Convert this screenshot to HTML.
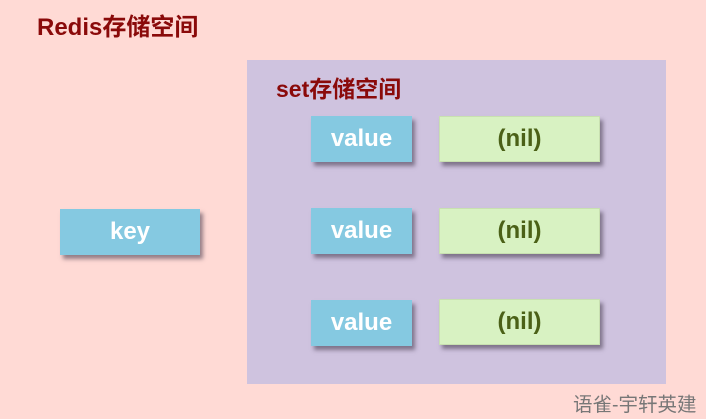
<!DOCTYPE html>
<html><head><meta charset="utf-8"><style>
html,body{margin:0;padding:0}
body{width:706px;height:419px;background:#ffdad5;position:relative;overflow:hidden;font-family:"Liberation Sans","Noto Sans CJK SC",sans-serif}
.t{position:absolute;color:#8a0a0a;font-weight:bold;white-space:nowrap}
.p{position:absolute;left:247px;top:60px;width:419px;height:324px;background:#cfc3df}
.b{position:absolute;display:flex;align-items:center;justify-content:center;font-weight:bold;font-size:24px;box-shadow:3px 4px 4px rgba(60,50,70,.55)}
.v{background:#85c9e1;color:#fff;width:101px;height:46px;left:311px}
.n{background:#d8f2c2;color:#4b6117;width:161px;height:46px;left:439px;border:1px solid #c8e0b0;box-sizing:border-box}
</style></head><body>
<div class="t" style="left:37px;top:7px;font-size:24px">Redis存储空间</div>
<div class="p"></div>
<div class="t" style="left:276px;top:70px;font-size:23px">set存储空间</div>
<div class="b" style="left:60px;top:209px;width:140px;height:46px;background:#85c9e1;color:#fff">key</div>
<div class="b v" style="top:116px">value</div>
<div class="b n" style="top:116px">(nil)</div>
<div class="b v" style="top:208px">value</div>
<div class="b n" style="top:208px">(nil)</div>
<div class="b v" style="top:300px">value</div>
<div class="b n" style="top:299px">(nil)</div>
<div style="position:absolute;left:573px;top:388px;font-size:19.5px;color:#777;white-space:nowrap">语雀-宇轩英建</div>
</body></html>
